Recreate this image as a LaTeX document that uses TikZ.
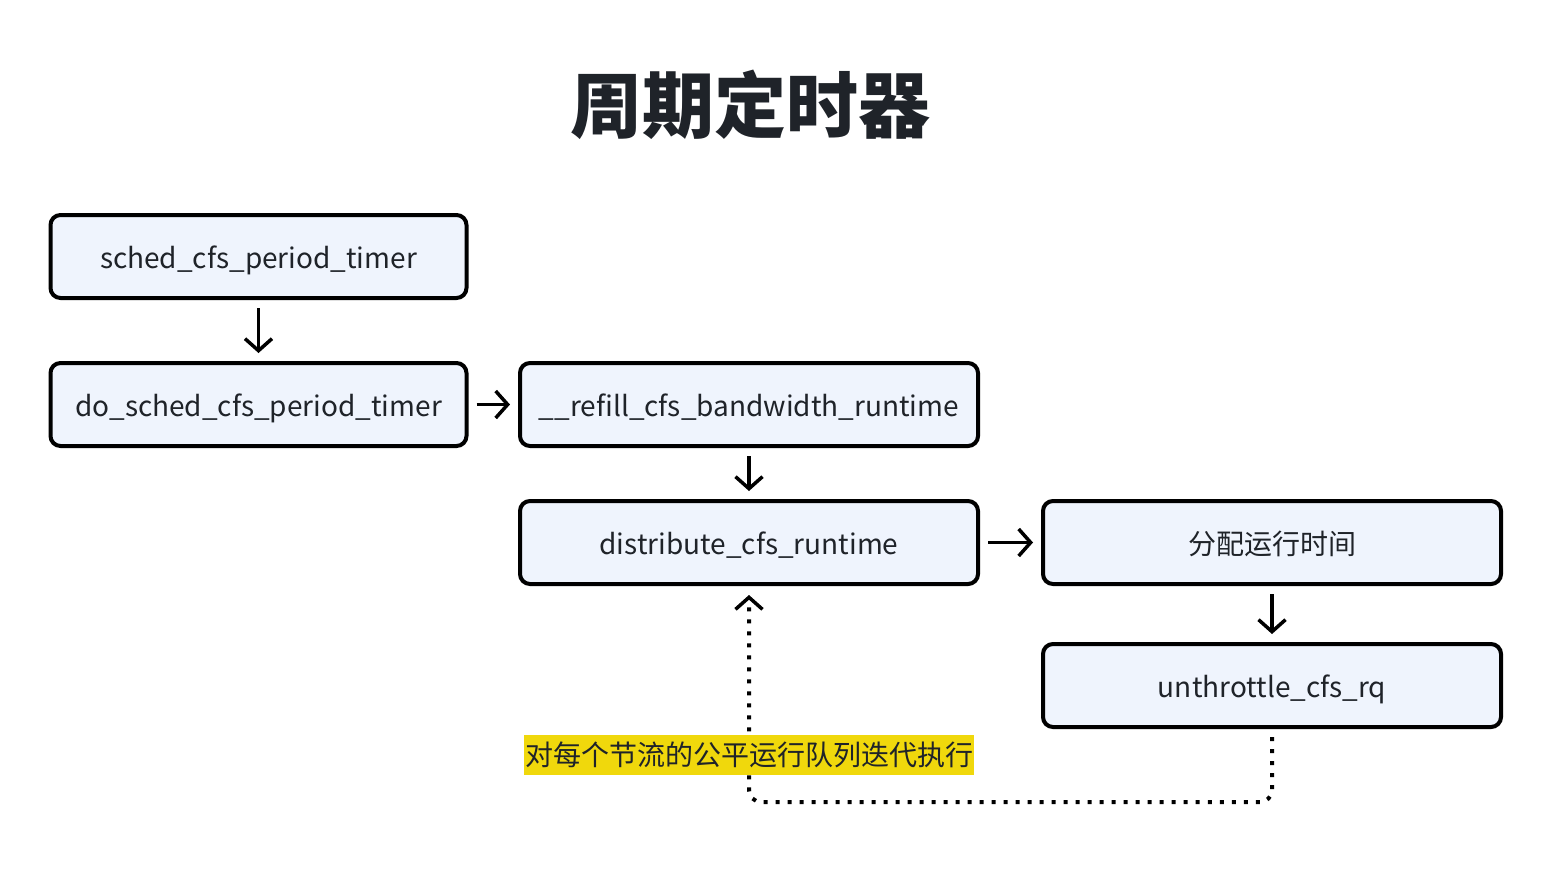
\documentclass[tikz,border=0pt]{standalone}
\usepackage{fontspec}
\setmainfont{Noto Sans CJK SC}
\usetikzlibrary{arrows.meta}
\definecolor{boxfill}{HTML}{EFF4FD}
\definecolor{boxtext}{HTML}{1F2329}
\definecolor{marker}{HTML}{F0D80C}
\begin{document}
\begin{tikzpicture}[x=1pt,y=-1pt,
    box/.style={draw=black, line width=4pt, fill=boxfill, rounded corners=10pt,
        minimum height=83pt, text=boxtext, text height=26pt, text depth=2pt,
        font=\fontsize{28}{34}\selectfont},
    shortbox/.style={box, minimum width=416pt},
    longbox/.style={box, minimum width=458pt},
    flow/.style={line width=3.5pt, -{Straight Barb[length=12pt,width=27pt]}, shorten <=8pt, shorten >=8pt},
    loop/.style={line width=4pt, dash pattern=on 4pt off 8pt, rounded corners=12pt,
        -{Straight Barb[length=12pt,width=27pt,line width=3.5pt]}},
    tag/.style={fill=marker, text=boxtext, inner xsep=1pt, inner ysep=0pt, minimum height=40pt,
        font=\fontsize{28}{34}\selectfont}]
    \fill[white] (0,0) rectangle (1554,868);

    \node[font=\fontsize{72}{80}\selectfont\bfseries, text=boxtext] (title) at (750,105) {周期定时器};

    \node[shortbox] (timer) at (258.5,256.5) {sched\_cfs\_period\_timer};
    \node[shortbox] (dotimer) at (258.5,404.5) {do\_sched\_cfs\_period\_timer};
    \node[longbox] (refill) at (749,404.5) {\_\_refill\_cfs\_bandwidth\_runtime};
    \node[longbox] (distribute) at (749,542.5) {distribute\_cfs\_runtime};
    \node[longbox] (assign) at (1272,542.5) {分配运行时间};
    \node[longbox] (unthrottle) at (1272,685.5) {unthrottle\_cfs\_rq};

    \draw[flow] (timer) -- (dotimer);
    \draw[flow] (dotimer) -- (refill);
    \draw[flow] (refill) -- (distribute);
    \draw[flow] (distribute) -- (assign);
    \draw[flow] (assign) -- (unthrottle);

    % loop back over every throttled rq
    \coordinate (turn) at (749,802);
    \draw[loop] ([yshift=-8pt]unthrottle.south) |- (turn) -- ([yshift=-9pt]distribute.south);
    \node[tag] (note) at (749,755) {对每个节流的公平运行队列迭代执行};
\end{tikzpicture}
\end{document}
